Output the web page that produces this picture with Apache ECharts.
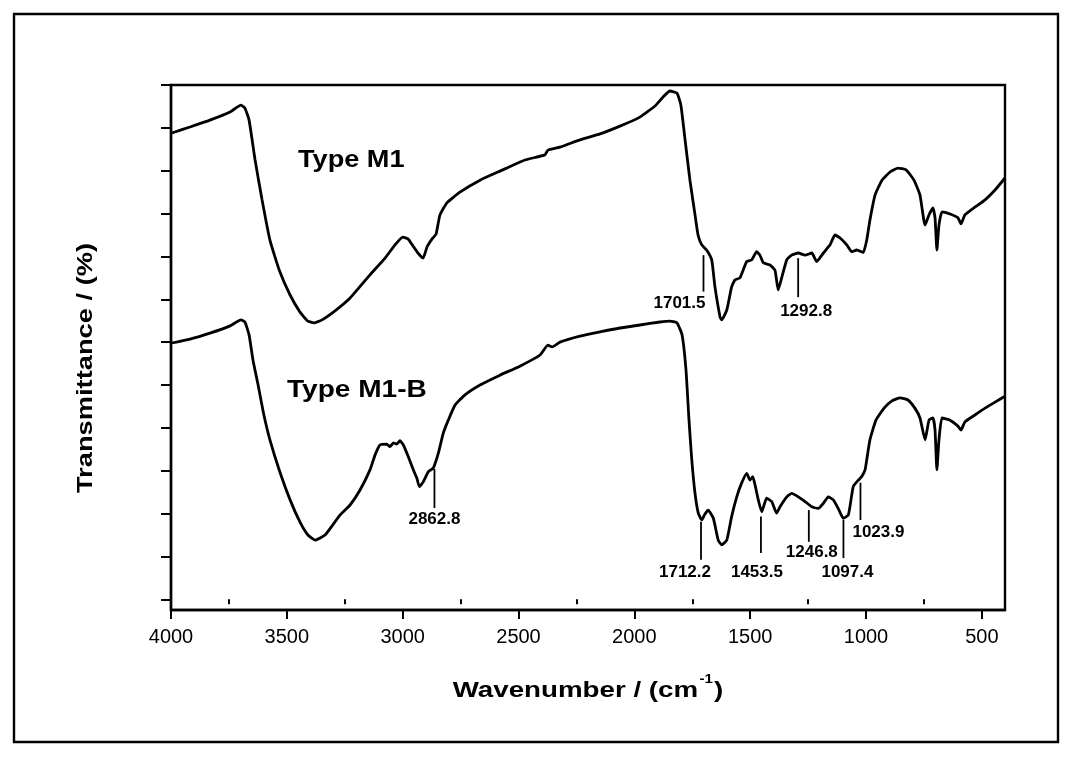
<!DOCTYPE html>
<html>
<head>
<meta charset="utf-8">
<script src="https://cdn.jsdelivr.net/npm/echarts@6/dist/echarts.min.js"></script>
<style>
  html, body { margin: 0; padding: 0; background: #fff; }
  #chart { width: 1072px; height: 758px; }
</style>
</head>
<body>
<div id="chart"></div>
<script>
// FTIR spectra, wavenumber (cm-1) vs. transmittance (offset, arbitrary units)
const wavenumberTicks = [4000, 3500, 3000, 2500, 2000, 1500, 1000, 500];
const wavenumberMinorTicks = [3750, 3250, 2750, 2250, 1750, 1250, 750];
const transmittanceTicks = [0, 1, 2, 3, 4, 5, 6, 7, 8, 9, 10, 11, 12];

// Type M1 spectrum: [wavenumber, transmittance]
const typeM1 = [
  [3996,10.88],[3918,11.02],[3832,11.18],[3745,11.37],[3698,11.53],[3681,11.46],[3663,11.18],
  [3637,10.25],[3607,9.32],[3573,8.38],[3530,7.64],[3486,7.10],[3443,6.70],[3409,6.49],
  [3383,6.45],[3348,6.52],[3292,6.73],[3227,7.03],[3141,7.57],[3076,7.96],[3033,8.27],
  [2999,8.45],[2977,8.41],[2955,8.24],[2934,8.08],[2912,7.96],[2895,8.22],[2873,8.41],
  [2856,8.52],[2839,8.97],[2809,9.25],[2753,9.50],[2666,9.78],[2580,9.99],[2472,10.25],
  [2386,10.37],[2373,10.48],[2321,10.55],[2235,10.72],[2148,10.86],[2062,11.04],[1976,11.25],
  [1911,11.51],[1876,11.72],[1846,11.86],[1816,11.81],[1799,11.53],[1781,10.72],[1760,9.78],
  [1738,8.97],[1725,8.50],[1709,8.27],[1688,8.15],[1666,7.92],[1652,7.29],[1630,6.59],
  [1623,6.52],[1601,6.75],[1580,7.29],[1566,7.45],[1544,7.50],[1515,7.88],[1493,7.92],
  [1472,8.11],[1458,8.03],[1443,7.85],[1414,7.80],[1393,7.68],[1379,7.22],[1364,7.50],
  [1342,7.92],[1321,8.03],[1292,8.08],[1263,8.03],[1234,8.08],[1213,7.88],[1184,8.08],
  [1155,8.27],[1134,8.50],[1112,8.43],[1083,8.27],[1062,8.11],[1040,8.15],[1012,8.09],
  [997,8.38],[983,8.85],[961,9.43],[931,9.78],[896,9.97],[862,10.06],[827,10.02],
  [793,9.78],[767,9.43],[745,8.73],[728,8.97],[711,9.13],[702,8.90],[694,8.15],
  [685,8.73],[672,9.04],[637,8.99],[603,8.90],[590,8.76],[573,8.97],[530,9.15],
  [486,9.32],[443,9.55],[400,9.83]
];

// Type M1-B spectrum: [wavenumber, transmittance]
const typeM1B = [
  [3996,5.98],[3918,6.07],[3832,6.21],[3745,6.38],[3698,6.52],[3681,6.47],[3663,6.17],
  [3646,5.58],[3624,5.00],[3599,4.30],[3573,3.72],[3530,2.97],[3486,2.32],[3443,1.80],
  [3409,1.50],[3378,1.38],[3335,1.50],[3270,1.97],[3227,2.20],[3184,2.55],[3141,3.02],
  [3119,3.37],[3098,3.60],[3069,3.62],[3055,3.56],[3040,3.65],[3026,3.62],[3012,3.70],
  [2997,3.60],[2976,3.33],[2954,3.02],[2939,2.83],[2928,2.63],[2911,2.74],[2889,2.98],
  [2868,3.06],[2846,3.41],[2825,3.87],[2803,4.18],[2774,4.53],[2731,4.77],[2666,5.00],
  [2580,5.23],[2494,5.44],[2407,5.70],[2373,5.93],[2355,5.89],[2321,6.00],[2235,6.14],
  [2148,6.24],[2062,6.33],[1976,6.40],[1889,6.47],[1846,6.49],[1816,6.45],[1794,6.17],
  [1777,5.35],[1764,4.18],[1752,3.25],[1738,2.47],[1724,2.01],[1709,1.85],[1695,1.99],
  [1681,2.08],[1659,1.89],[1638,1.38],[1623,1.27],[1601,1.38],[1580,1.93],[1558,2.39],
  [1537,2.71],[1515,2.94],[1501,2.78],[1489,2.86],[1479,2.67],[1465,2.32],[1450,2.04],
  [1429,2.36],[1407,2.28],[1386,2.01],[1371,2.16],[1342,2.39],[1321,2.47],[1292,2.39],
  [1263,2.28],[1234,2.16],[1206,2.12],[1184,2.24],[1163,2.39],[1141,2.32],[1120,2.12],
  [1098,1.89],[1076,1.97],[1055,2.63],[1033,2.78],[1019,2.86],[1004,3.02],[997,3.25],
  [983,3.72],[957,4.18],[922,4.46],[888,4.63],[853,4.70],[819,4.65],[789,4.46],
  [767,4.23],[745,3.72],[728,4.18],[711,4.23],[702,3.95],[694,3.02],[685,3.72],
  [672,4.23],[637,4.18],[603,4.04],[590,3.95],[573,4.14],[530,4.30],[486,4.46],
  [443,4.60],[400,4.74]
];

// Assigned peaks: wavenumber, marker top and bottom (transmittance units), label
const peakWavenumbers = [1701.5, 1292.8, 2862.8, 1712.2, 1453.5, 1246.8, 1097.4, 1023.9];
const peakMarkerTop    = [8.03, 7.96, 3.04, 1.81, 1.93, 2.08, 1.85, 2.72];
const peakMarkerBottom = [7.18, 7.05, 2.13, 0.92, 1.08, 1.34, 0.96, 1.85];
const peakLabels = ['1701.5', '1292.8', '2862.8', '1712.2', '1453.5', '1246.8', '1097.4', '1023.9'];

// Label placement relative to the lower end of each marker (px)
const peakLabelLayout = [
  { dx: 2, dy: 12, align: 'right' },
  { dx: 8, dy: 14, align: 'center' },
  { dx: 0, dy: 11, align: 'center' },
  { dx: -16, dy: 12, align: 'center' },
  { dx: -4, dy: 19, align: 'center' },
  { dx: 3, dy: 10, align: 'center' },
  { dx: 4, dy: 14, align: 'center' },
  { dx: 18, dy: 12, align: 'center' }
];

const FONT = '"Liberation Sans", Arial, Helvetica, sans-serif';

const peakData = peakWavenumbers.map((w, i) => [w, peakMarkerTop[i], peakMarkerBottom[i]]);

const chart = echarts.init(document.getElementById('chart'), null, { renderer: 'canvas' });

chart.setOption({
  backgroundColor: '#ffffff',
  animation: false,
  grid: {
    left: 171, right: 67, top: 85, bottom: 148,
    show: true, borderColor: '#000', borderWidth: 2.4, backgroundColor: 'transparent'
  },
  xAxis: [
    {
      type: 'value', min: 400, max: 4000, inverse: true,
      axisLine: { show: true, onZero: false, lineStyle: { color: '#000', width: 2.4 } },
      axisTick: { show: true, inside: false, length: 9, customValues: wavenumberTicks,
                  lineStyle: { color: '#000', width: 2 } },
      axisLabel: { show: true, customValues: wavenumberTicks, margin: 17,
                   formatter: (v) => String(v),
                   color: '#000', fontSize: 20, fontFamily: FONT },
      splitLine: { show: false }
    },
    {
      type: 'value', min: 400, max: 4000, inverse: true, position: 'bottom',
      axisLine: { show: false },
      axisTick: { show: true, inside: false, length: 5, customValues: wavenumberMinorTicks,
                  lineStyle: { color: '#000', width: 2 } },
      axisLabel: { show: false },
      splitLine: { show: false }
    }
  ],
  yAxis: {
    type: 'value', min: -0.25, max: 12,
    axisLine: { show: true, onZero: false, lineStyle: { color: '#000', width: 2.4 } },
    axisTick: { show: true, inside: false, length: 10, customValues: transmittanceTicks,
                lineStyle: { color: '#000', width: 2 } },
    axisLabel: { show: false },
    splitLine: { show: false }
  },
  graphic: [
    {
      type: 'rect', silent: true,
      shape: { x: 14, y: 14, width: 1044, height: 728 },
      style: { fill: 'none', stroke: '#000', lineWidth: 2.4 }
    },
    {
      type: 'text', x: 298, y: 149, scaleX: 1.18,
      style: { text: 'Type M1', font: 'bold 23px ' + FONT, fill: '#000' }
    },
    {
      type: 'text', x: 287, y: 379, scaleX: 1.22,
      style: { text: 'Type M1-B', font: 'bold 23px ' + FONT, fill: '#000' }
    },
    {
      type: 'text', x: 588, y: 688, scaleX: 1.26,
      style: {
        text: '{a|Wavenumber / (cm}{s|-1}{a|)}',
        align: 'center', verticalAlign: 'middle', fill: '#000',
        rich: {
          a: { fontSize: 22, fontWeight: 'bold', fontFamily: FONT, lineHeight: 28, verticalAlign: 'bottom' },
          s: { fontSize: 12, fontWeight: 'bold', fontFamily: FONT, lineHeight: 28, verticalAlign: 'top', padding: [0, 1, 0, 1] }
        }
      }
    },
    {
      type: 'text', x: 86, y: 368, rotation: Math.PI / 2, scaleX: 1.24,
      style: {
        text: 'Transmittance / (%)', font: 'bold 22px ' + FONT, fill: '#000',
        align: 'center', verticalAlign: 'middle'
      }
    }
  ],
  series: [
    {
      name: 'Type M1', type: 'line', data: typeM1, showSymbol: false, smooth: 0.15,
      lineStyle: { color: '#000', width: 2.8 }, xAxisIndex: 0
    },
    {
      name: 'Type M1-B', type: 'line', data: typeM1B, showSymbol: false, smooth: 0.15,
      lineStyle: { color: '#000', width: 2.8 }, xAxisIndex: 0
    },
    {
      name: 'Peaks', type: 'custom', xAxisIndex: 0, clip: false,
      encode: { x: 0, y: [1, 2] },
      data: peakData,
      renderItem: function (params, api) {
        const i = params.dataIndex;
        const top = api.coord([api.value(0), api.value(1)]);
        const bot = api.coord([api.value(0), api.value(2)]);
        const lay = peakLabelLayout[i];
        return {
          type: 'group',
          children: [
            {
              type: 'line',
              shape: { x1: top[0], y1: top[1], x2: bot[0], y2: bot[1] },
              style: { stroke: '#000', lineWidth: 1.8 }
            },
            {
              type: 'text',
              x: bot[0] + lay.dx, y: bot[1] + lay.dy,
              style: {
                text: peakLabels[i], fill: '#000',
                font: 'bold 17px ' + FONT,
                align: lay.align, verticalAlign: 'middle'
              }
            }
          ]
        };
      }
    }
  ]
});
</script>
</body>
</html>
